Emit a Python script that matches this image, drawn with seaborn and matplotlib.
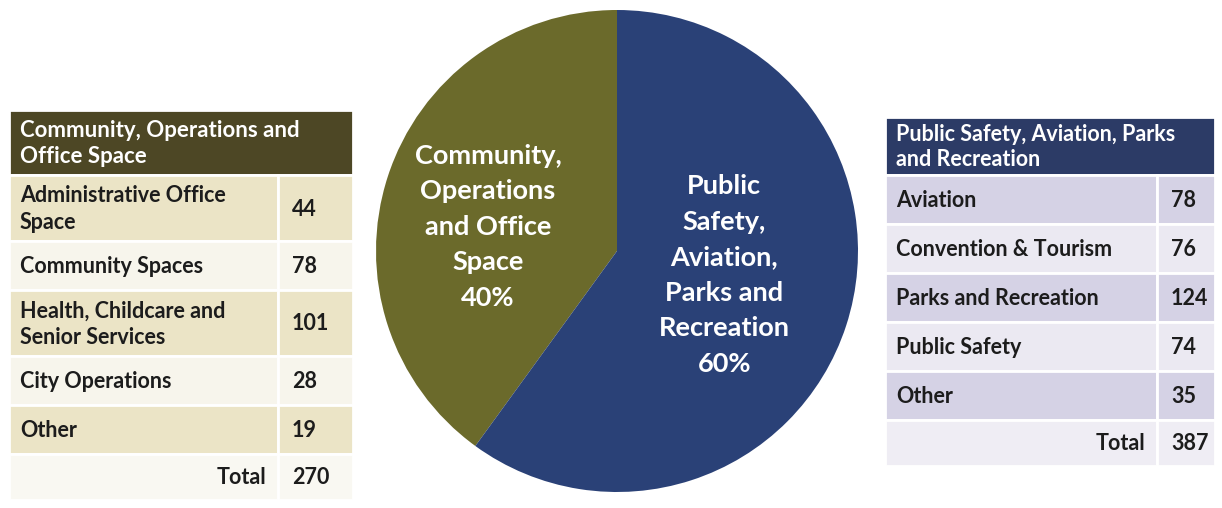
import matplotlib
matplotlib.use("Agg")
import matplotlib.pyplot as plt
import seaborn as sns

# Facility counts by group
left_title = "Community, Operations and\nOffice Space"
left_items = ["Administrative Office\nSpace", "Community Spaces",
              "Health, Childcare and\nSenior Services", "City Operations", "Other"]
left_counts = [44, 78, 101, 28, 19]

right_title = "Public Safety, Aviation, Parks\nand Recreation"
right_items = ["Aviation", "Convention & Tourism", "Parks and Recreation",
               "Public Safety", "Other"]
right_counts = [78, 76, 124, 74, 35]

pie_labels = ["Community,\nOperations\nand Office\nSpace",
              "Public\nSafety,\nAviation,\nParks and\nRecreation"]
pie_shares = [40, 60]

sns.set_theme(style="white")
plt.rcParams["font.family"] = ["Lato", "DejaVu Sans"]
plt.rcParams["font.weight"] = "bold"

FW, FH = 1222, 508
fig = plt.figure(figsize=(FW / 100, FH / 100), dpi=100)
fig.patch.set_facecolor("white")


def px_axes(x0, y0, x1, y1):
    """Axes placed by pixel box (top-left origin)."""
    return fig.add_axes([x0 / FW, 1 - y1 / FH, (x1 - x0) / FW, (y1 - y0) / FH])


def draw_table(box, title, items, counts, header_h, split, header_color,
               bands, total_color, fs=15.5, hfs=16.0):
    x0, y0, x1, _ = box
    width = x1 - x0
    one_line, two_line, total_h = 49, 66, 46
    heights = [two_line if "\n" in s else one_line for s in items]
    height = header_h + sum(heights) + total_h
    ax = px_axes(x0, y0, x1, y0 + height)
    ax.set_xlim(0, width)
    ax.set_ylim(height, 0)
    ax.axis("off")
    ec = dict(edgecolor="white", linewidth=2)
    ink = "#1c1c1c"

    # header
    ax.barh(header_h / 2, width, height=header_h, left=0, color=header_color, **ec)
    ax.text(11, header_h / 2 + 1, title, color="white", fontsize=hfs,
            fontweight="bold", va="center", ha="left", linespacing=1.25)

    top = header_h
    for i, (lab, val, h) in enumerate(zip(items, counts, heights)):
        c = bands[i % 2]
        yc = top + h / 2
        ax.barh(yc, split, height=h, left=0, color=c, **ec)
        ax.barh(yc, width - split, height=h, left=split, color=c, **ec)
        ax.text(11, yc + 1, lab, color=ink, fontsize=fs, fontweight="bold",
                va="center", ha="left", linespacing=1.3)
        ax.text(split + 14, yc + 1, str(val), color=ink, fontsize=fs,
                fontweight="bold", va="center", ha="left")
        top += h

    yc = top + total_h / 2
    ax.barh(yc, split, height=total_h, left=0, color=total_color, **ec)
    ax.barh(yc, width - split, height=total_h, left=split, color=total_color, **ec)
    ax.text(split - 12, yc + 1, "Total", color=ink, fontsize=fs,
            fontweight="bold", va="center", ha="right")
    ax.text(split + 14, yc + 1, str(sum(counts)), color=ink, fontsize=fs,
            fontweight="bold", va="center", ha="left")


draw_table((9, 110, 353, 0), left_title, left_items, left_counts,
           header_h=65, split=269, header_color="#4d4725",
           bands=["#ebe4c6", "#f7f5ec"], total_color="#f9f8f2")

draw_table((885, 117, 1215, 0), right_title, right_items, right_counts,
           header_h=58, split=272, header_color="#2c3b66",
           bands=["#d5d2e5", "#ebe9f2"], total_color="#efedf4", hfs=15.5)

# pie
pax = px_axes(376, 10, 858, 492)
pie_colors = ["#6b6a2b", "#2a4177"]
wedges, _ = pax.pie(pie_shares, colors=pie_colors, startangle=90,
                    counterclock=True, radius=1.0,
                    wedgeprops=dict(edgecolor="none"))
pax.set_xlim(-1, 1)
pax.set_ylim(-1, 1)
pax.set_aspect("equal")
pax.axis("off")

label_pos = [(-0.535, 0.10), (0.445, -0.10)]
for (x, y), lab, pct in zip(label_pos, pie_labels, pie_shares):
    pax.text(x, y, f"{lab}\n{pct}%", color="white", fontsize=19.5,
             fontweight="bold", ha="center", va="center", linespacing=1.58)

fig.savefig("out.png", dpi=100, facecolor="white")
